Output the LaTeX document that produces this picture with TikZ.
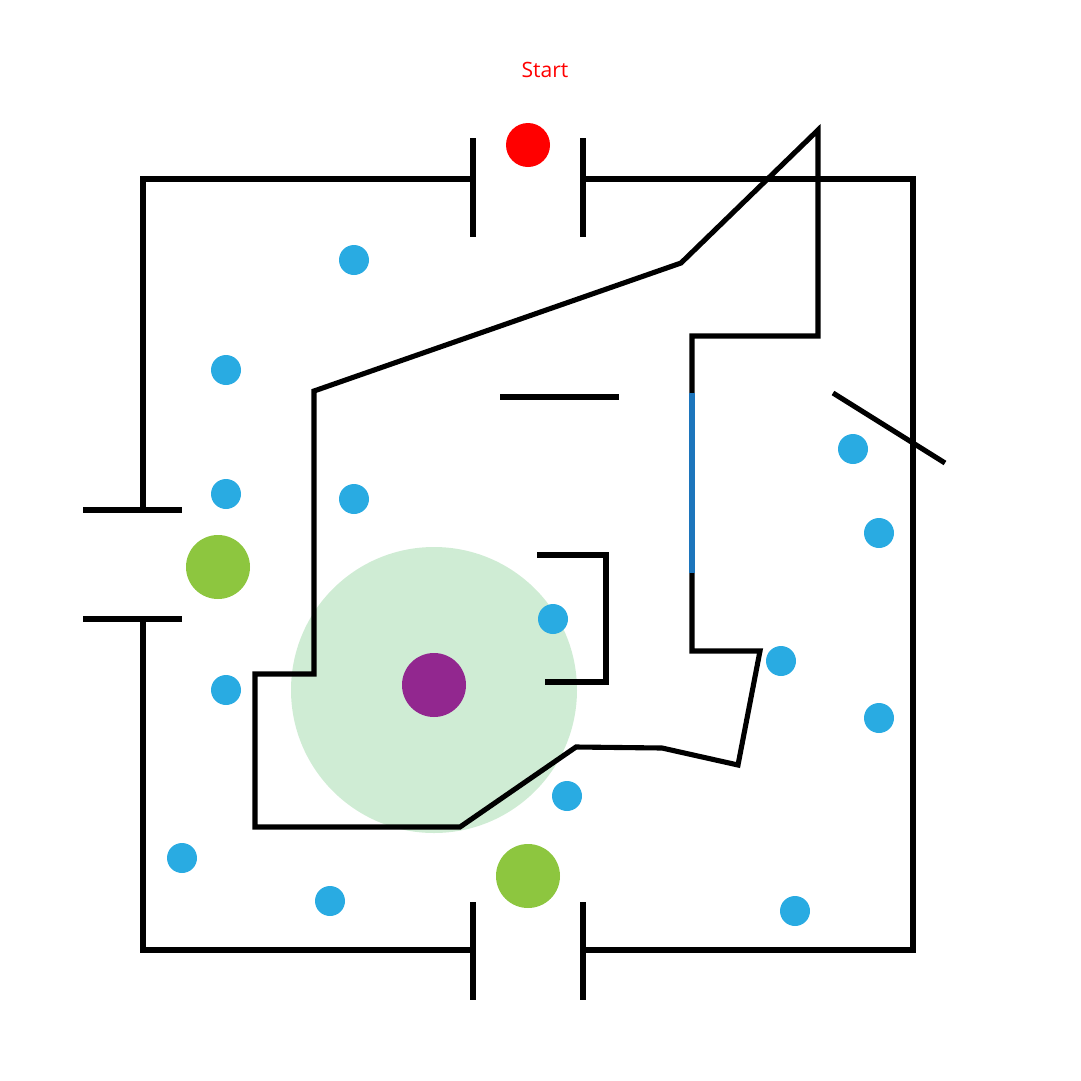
\documentclass[tikz,border=0pt]{standalone}
\usepackage{fontspec}
\setmainfont{Open Sans}
\definecolor{dotblue}{HTML}{29ABE2}
\definecolor{segblue}{HTML}{1C75BC}
\definecolor{leafgreen}{HTML}{8DC63F}
\definecolor{palegreen}{HTML}{CFECD4}
\definecolor{plum}{HTML}{92278F}
\definecolor{startred}{HTML}{FF0000}
\tikzset{
  wall/.style={line width=1.45pt, black, line cap=butt, line join=miter},
  dot/.style={fill=dotblue},
}
\begin{document}
\begin{tikzpicture}[x=0.01cm,y=-0.01cm]
\useasboundingbox (0,0) rectangle (1081,1081);
% light green zone
\fill[palegreen] (434,690) circle (143);
% outer walls
\draw[wall] (473,179) -- (143,179) -- (143,510);
\draw[wall] (583,179) -- (913,179) -- (913,950) -- (583,950);
\draw[wall] (473,950) -- (143,950) -- (143,619);
\draw[wall] (473,138) -- (473,237);
\draw[wall] (583,138) -- (583,237);
\draw[wall] (473,902) -- (473,1000);
\draw[wall] (583,902) -- (583,1000);
\draw[wall] (83,510) -- (182,510);
\draw[wall] (83,619) -- (182,619);
% inner polygon
\draw[wall] (692,573) -- (692,651) -- (760,651) -- (738,765) -- (662,748) -- (576,747) -- (460,827) -- (255,827) -- (255,674) -- (314,674) -- (314,391) -- (681,263) -- (818,130) -- (818,336) -- (692,336) -- (692,393);
\draw[wall, segblue] (692,393) -- (692,573);
% loose walls
\draw[wall] (500,397) -- (619,397);
\draw[wall] (537,555) -- (606,555) -- (606,682) -- (545,682);
\draw[wall] (833,393) -- (945,463);
% start
\node[text=startred, font=\fontsize{6}{7}\selectfont] (start) at (545,70) {Start};
\fill[startred] (528,145) circle (22);
% big dots
\fill[leafgreen] (218,567) circle (32);
\fill[leafgreen] (528,876) circle (32);
\fill[plum] (434,685) circle (32);
% small blue dots
\foreach \p in {(354,260),(226,370),(226,494),(354,499),(553,619),(226,690),(567,796),(182,858),(330,901),(853,449),(879,533),(781,661),(879,718),(795,911)}
  \fill[dot] \p circle (15);
\end{tikzpicture}
\end{document}
